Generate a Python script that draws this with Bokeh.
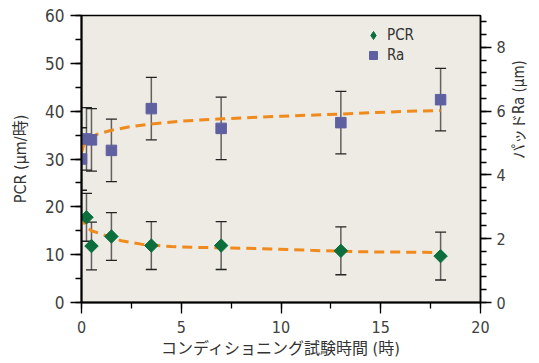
from bokeh.plotting import figure
from bokeh.models import (Range1d, LinearAxis, SingleIntervalTicker, ColumnDataSource,
                          Whisker, TeeHead, Legend, LegendItem)
from bokeh.embed import file_html
from bokeh.resources import INLINE
import math

# --- data ---
hours_pcr = [0.25, 0.5, 1.5, 3.5, 7, 13, 18]
pcr = [17.8, 11.8, 13.8, 11.9, 11.9, 10.8, 9.7]
pcr_err = [5.0, 5.0, 5.0, 5.0, 5.0, 5.0, 5.0]

hours_ra = [0, 0.25, 0.5, 1.5, 3.5, 7, 13, 18]
ra = [4.5, 5.13, 5.1, 4.77, 6.08, 5.46, 5.64, 6.36]
ra_err = [0.98, 0.98, 0.98, 0.98, 0.98, 0.98, 0.98, 0.98]

# fitted trend curves
fit_pcr_x = [0.02, 0.1, 0.25, 0.5, 1.0, 2.0, 3.0, 4.5, 6.0, 7.5, 9.5, 11.5, 14.0, 17.2, 18.0]
fit_pcr_y = [18.3, 17.0, 15.8, 15.0, 14.3, 12.9, 12.2, 11.7, 11.5, 11.4, 11.2, 10.9, 10.6, 10.5, 10.4]
fit_ra_x = [0.02, 0.1, 0.25, 0.5, 0.8, 1.5, 2.5, 3.5, 5.0, 7.0, 10.0, 13.0, 16.0, 18.0]
fit_ra_y = [4.73, 4.92, 5.09, 5.19, 5.28, 5.40, 5.52, 5.60, 5.69, 5.76, 5.84, 5.91, 5.99, 6.02]

FONT = "Liberation Sans Narrow, DejaVu Sans Condensed, Noto Sans CJK JP, sans-serif"
GREEN = "#0B6E3D"
PURPLE = "#5F60A0"
ORANGE = "#F08A1C"

W, H = 539, 363
BL, BR, BT, BB = 81, 55, 15, 61

p = figure(width=W, height=H, output_backend="svg", toolbar_location=None,
           x_range=Range1d(0, 20), y_range=Range1d(0, 60),
           min_border_left=BL, min_border_right=BR, min_border_top=BT, min_border_bottom=BB)
p.extra_y_ranges = {"ra": Range1d(0, 9)}

p.background_fill_color = "#EEEBE4"
p.border_fill_color = "white"
p.outline_line_color = "black"
p.outline_line_width = 1.5
p.xgrid.visible = False
p.ygrid.visible = False

# axes
def style_axis(ax, label_size="15px"):
    ax.axis_line_color = "black"
    ax.axis_line_width = 2
    ax.major_tick_line_color = "black"
    ax.minor_tick_line_color = "black"
    ax.major_tick_line_width = 1.3
    ax.minor_tick_line_width = 1.3
    ax.major_tick_in = 0
    ax.minor_tick_in = 0
    ax.major_tick_out = 11
    ax.minor_tick_out = 6
    ax.major_label_text_font = FONT
    ax.major_label_text_font_size = label_size
    ax.major_label_text_color = "#404040"
    ax.axis_label_text_font = FONT
    ax.axis_label_text_font_size = "16px"
    ax.axis_label_text_font_style = "normal"
    ax.axis_label_text_color = "#333333"

xa = p.xaxis[0]
xa.ticker = SingleIntervalTicker(interval=5, num_minor_ticks=2)
style_axis(xa, "16px")
xa.major_label_standoff = 7
xa.axis_label = "コンディショニング試験時間 (時)"
xa.axis_label_standoff = 3

ya = p.yaxis[0]
ya.ticker = SingleIntervalTicker(interval=10, num_minor_ticks=2)
style_axis(ya, "17px")
ya.major_label_standoff = 6
ya.axis_label = "PCR (µm/時)"
ya.axis_label_standoff = 12

ra_axis = LinearAxis(y_range_name="ra", ticker=SingleIntervalTicker(interval=2, num_minor_ticks=5))
style_axis(ra_axis, "16px")
ra_axis.axis_line_width = 1.5
ra_axis.major_label_standoff = 5
# right axis title, reading bottom to top as in the reference
ra_axis.axis_label = "パッドRa (µm)"
ra_axis.axis_label_orientation = math.pi / 2
ra_axis.axis_label_standoff = 10
ra_axis.axis_label_text_font_size = "15px"
p.add_layout(ra_axis, "right")

# fit curves
p.line(fit_ra_x, fit_ra_y, y_range_name="ra", line_color=ORANGE, line_width=3, line_dash="10 6")
p.line(fit_pcr_x, fit_pcr_y, line_color=ORANGE, line_width=3, line_dash="10 6")

# error bars
src_pcr = ColumnDataSource(dict(x=hours_pcr, y=pcr,
                                lo=[v - e for v, e in zip(pcr, pcr_err)],
                                hi=[v + e for v, e in zip(pcr, pcr_err)]))
src_ra = ColumnDataSource(dict(x=hours_ra, y=ra,
                               lo=[v - e for v, e in zip(ra, ra_err)],
                               hi=[v + e for v, e in zip(ra, ra_err)]))

def heads():
    return (TeeHead(size=11, line_color="#222222", line_width=1.3),
            TeeHead(size=11, line_color="#222222", line_width=1.3))

u, l = heads()
p.add_layout(Whisker(base="x", upper="hi", lower="lo", source=src_pcr,
                     line_color="#333333", line_alpha=0.75, line_width=1.5,
                     upper_head=u, lower_head=l))
u, l = heads()
p.add_layout(Whisker(base="x", upper="hi", lower="lo", source=src_ra, y_range_name="ra",
                     line_color="#333333", line_alpha=0.75, line_width=1.5,
                     upper_head=u, lower_head=l))

# markers
r_ra = p.scatter("x", "y", source=src_ra, y_range_name="ra", marker="square", size=10.5,
                 fill_color=PURPLE, line_color=PURPLE)
r_pcr = p.scatter("x", "y", source=src_pcr, marker="square", angle=math.pi / 4, size=9.5,
                  fill_color=GREEN, line_color=GREEN)
# legend-only diamond swatch (legend swatches ignore marker rotation); off-chart NaN point
r_pcr_leg = p.scatter(x=[float("nan")], y=[float("nan")], marker="diamond", size=10,
                      fill_color=GREEN, line_color=GREEN)

legend = Legend(items=[LegendItem(label="PCR", renderers=[r_pcr_leg]),
                       LegendItem(label="Ra", renderers=[r_ra])],
                location=(281, 237), orientation="vertical",
                padding=0, spacing=0, margin=0,
                glyph_width=22, glyph_height=20, label_height=20, label_standoff=3,
                label_text_font=FONT, label_text_font_size="15px", label_text_color="#333333",
                background_fill_alpha=0, border_line_alpha=0)
p.add_layout(legend, "center")

open("out.html", "w").write(file_html(p, INLINE))
